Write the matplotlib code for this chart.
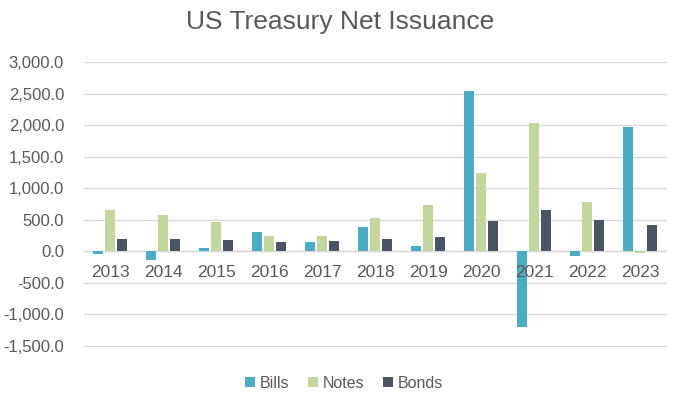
import numpy as np
import matplotlib.pyplot as plt

plt.rcParams['font.family'] = ['Liberation Sans', 'DejaVu Sans']

years = ['2013', '2014', '2015', '2016', '2017', '2018', '2019', '2020', '2021', '2022', '2023']
bills = [-42, -137, 47, 300, 142, 379, 79, 2542, -1195, -74, 1974]
notes = [647, 568, 458, 237, 237, 521, 742, 1247, 2037, 789, -26]
bonds = [189, 189, 174, 142, 158, 189, 221, 474, 647, 489, 411]

grey = '#595959'
fig = plt.figure(figsize=(6.73, 3.97), dpi=100)
ax = fig.add_axes([83.5/673, 1-347/397, 583/673, 285/397])

x = np.arange(len(years))
w = 0.19
ax.bar(x - 0.23, bills, w, color='#4BACC6', label='Bills', zorder=3)
ax.bar(x, notes, w, color='#C3D69B', label='Notes', zorder=3)
ax.bar(x + 0.23, bonds, w, color='#4A5462', label='Bonds', zorder=3)

ax.set_xlim(-0.5, len(years) - 0.5)
ax.set_ylim(-1516, 3000)
ax.set_yticks(np.arange(-1500, 3001, 500))
ax.set_yticklabels(['{:,.1f}'.format(v) for v in np.arange(-1500, 3001, 500)])
ax.yaxis.grid(True, color='#D9D9D9', linewidth=1, zorder=0)
ax.axhline(0, color='#D9D9D9', linewidth=1, zorder=2)
for s in ax.spines.values():
    s.set_visible(False)
ax.tick_params(axis='y', length=0, labelsize=12, labelcolor=grey, pad=14)

ax.set_xticks([])
for i, yr in enumerate(years):
    ax.text(i, -330, yr, ha='center', va='center', fontsize=12.5, color=grey, zorder=4)

fig.text(0.505, 1-22/397, 'US Treasury Net Issuance', ha='center', va='center',
         fontsize=19, color=grey)

leg = fig.legend(loc='center', bbox_to_anchor=(344/673, 1-383/397), ncol=3, frameon=False,
                 fontsize=11.5, handlelength=0.6, handleheight=0.6, handletextpad=0.3,
                 columnspacing=1.2)
for t in leg.get_texts():
    t.set_color(grey)

plt.savefig('out.png', dpi=100)
